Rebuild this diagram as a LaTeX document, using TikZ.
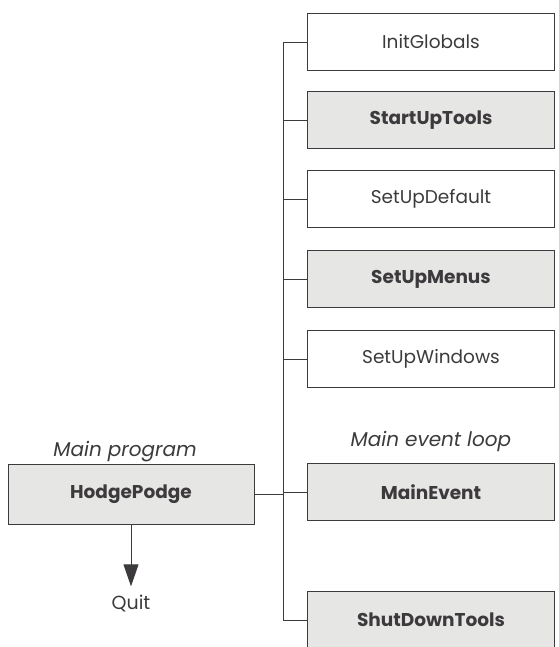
\documentclass[tikz,border=0pt]{standalone}
\usepackage{fontspec}
\setmainfont{Poppins}
\usetikzlibrary{arrows.meta}
\definecolor{ink}{HTML}{3C3A3C}
\definecolor{panel}{HTML}{E6E6E4}
\tikzset{
  proc/.style={draw=ink, line width=0.9pt, minimum width=247pt, minimum height=57pt,
               inner sep=0pt, text=ink, font=\fontsize{18.5}{22}\selectfont},
  hot/.style={proc, fill=panel, font=\fontsize{18.5}{22}\selectfont\bfseries},
  wire/.style={draw=ink, line width=0.9pt},
  note/.style={text=ink, font=\fontsize{20}{24}\selectfont\itshape, inner sep=0pt}
}
\begin{document}
\begin{tikzpicture}[x=1pt, y=-1pt]
  \useasboundingbox (0,0) rectangle (558,647);

  % called routines
  \node[proc] (init)  at (431,42)  {InitGlobals};
  \node[hot]  (tools) at (431,120) {StartUpTools};
  \node[proc] (defs)  at (431,199) {SetUpDefault};
  \node[hot]  (menus) at (431,279) {SetUpMenus};
  \node[proc] (wins)  at (431,359) {SetUpWindows};
  \node[hot]  (event) at (431,492) {MainEvent};
  \node[hot]  (shut)  at (431,620) {ShutDownTools};

  % main program
  \node[hot, minimum width=246pt, minimum height=60pt] (hodge) at (131,494) {HodgePodge};
  \node[note] (mainlbl)  at (125,452) {Main program};
  \node[note] (looplbl)  at (431,441) {Main event loop};
  \node[text=ink, font=\fontsize{19}{22}\selectfont, inner sep=0pt] (quit) at (131,604) {Quit};

  % call bus
  \coordinate (bus) at (283,0);
  \draw[wire] (init.west) -| (bus |- shut.west) -- (shut.west);
  \foreach \n in {tools,defs,menus,wins,event}
    \draw[wire] (\n.west) -- (\n.west -| bus);
  \draw[wire] (hodge.east) -- (hodge.east -| bus);

  % exit
  \draw[wire, -{Triangle[width=15pt,length=22pt]}, shorten >=9pt] (hodge.south) -- (quit.north);
\end{tikzpicture}
\end{document}
